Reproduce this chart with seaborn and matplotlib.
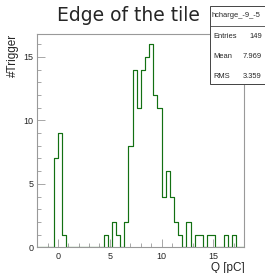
import seaborn as sns
import matplotlib.pyplot as plt
import numpy as np
import pandas as pd
from matplotlib.ticker import MultipleLocator
from matplotlib.patches import Rectangle

# Histogram binning (0.4 pC bins from -2 to 18) and counts per bin
bin_edges = np.round(np.arange(-2.0, 18.0001, 0.4), 2)
counts = [0, 0, 0, 0, 7, 9, 1, 0, 0, 0,
          0, 0, 0, 0, 0, 0, 1, 0, 2, 1,
          0, 2, 8, 14, 11, 14, 15, 16, 12, 11,
          4, 6, 4, 2, 1, 0, 2, 0, 1, 1,
          0, 1, 1, 0, 0, 1, 0, 1, 0, 0]
bin_centers = (bin_edges[:-1] + bin_edges[1:]) / 2

title = 'Edge of the tile'
hist_name = 'hcharge_-9_-5'
stat_names = ['Entries', 'Mean', 'RMS']
stat_values = ['149', '7.969', '3.359']

df = pd.DataFrame({'q': bin_centers, 'n': counts})

sns.set_style('white')
plt.rcParams['font.family'] = ['Liberation Sans', 'DejaVu Sans']

fig = plt.figure(figsize=(2.65, 2.73), dpi=100)
ax = fig.add_axes([0.141, 0.094, 0.781, 0.781])

sns.histplot(data=df, x='q', weights='n', bins=list(bin_edges), element='step',
             fill=False, color='#137013', linewidth=0.85, ax=ax)

ax.set_xlim(-2, 18)
ax.set_ylim(0, 16.8)
ax.xaxis.set_major_locator(MultipleLocator(5))
ax.xaxis.set_minor_locator(MultipleLocator(1))
ax.yaxis.set_major_locator(MultipleLocator(5))
ax.yaxis.set_minor_locator(MultipleLocator(1))
ax.tick_params(which='both', direction='in', color='#999999', labelsize=6.5,
               top=False, right=False, pad=3)
ax.tick_params(which='major', length=6, width=0.6)
ax.tick_params(which='minor', length=3, width=0.6)
ax.tick_params(axis='x', which='both', bottom=True)
ax.tick_params(axis='y', which='both', left=True)
for s in ax.spines.values():
    s.set_color('#999999')
    s.set_linewidth(0.8)

ax.set_ylabel('#Trigger', fontsize=8.5, loc='top', labelpad=3)
ax.set_xlabel('Q [pC]', fontsize=8.5, loc='right', labelpad=1)

# title: wider face to match the reference's TeX-like sans
fig.text(0.483, 1 - 20.7 / 273, title, fontsize=13.5, ha='center', va='baseline',
         family='DejaVu Sans')

# ROOT-style stats box
bx0, by0, bw, bh = 210 / 265, 1 - 84 / 273, 60 / 265, 78 / 273
fig.patches.append(Rectangle((bx0 + 0.004, by0 - 0.005), bw, bh, transform=fig.transFigure,
                             facecolor='#444444', edgecolor='none', zorder=5))
fig.patches.append(Rectangle((bx0, by0), bw, bh, transform=fig.transFigure,
                             facecolor='white', edgecolor='#444444', linewidth=0.7, zorder=6))
hy = 1 - 26 / 273
fig.add_artist(plt.Line2D([bx0, bx0 + bw], [hy, hy], transform=fig.transFigure,
                          color='#444444', linewidth=0.6, zorder=7))
fig.text(bx0 + 0.004, 1 - 15.5 / 273, hist_name, fontsize=5.4, ha='left', va='center', zorder=8)
for i, (n, v) in enumerate(zip(stat_names, stat_values)):
    yy = 1 - (37 + 20 * i) / 273
    fig.text(bx0 + 0.012, yy, n, fontsize=5.4, ha='left', va='center', zorder=8)
    fig.text(0.988, yy, v, fontsize=5.4, ha='right', va='center', zorder=8)

fig.savefig('out.png', dpi=100)
